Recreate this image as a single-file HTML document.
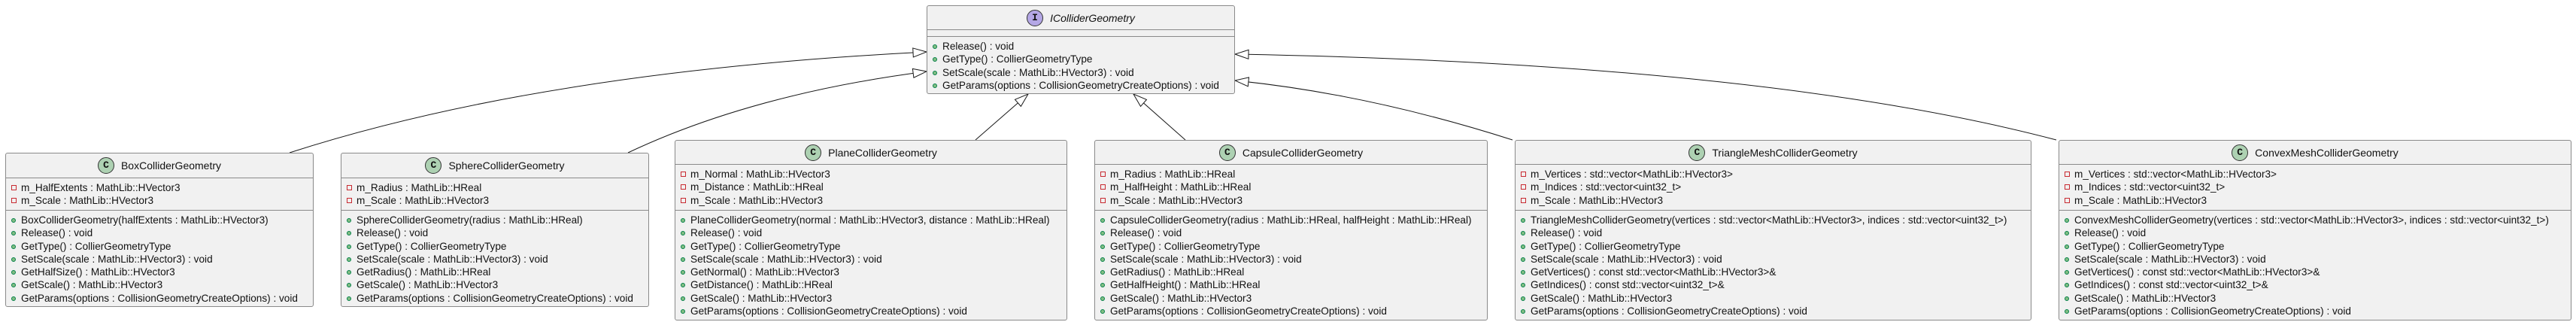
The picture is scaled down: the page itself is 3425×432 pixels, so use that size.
<!DOCTYPE html>
<html><head><meta charset="utf-8"><style>
body{margin:0;width:3425px;height:432px;background:#fff;position:relative;overflow:hidden;font-family:"Liberation Sans",sans-serif;font-size:13.6px;color:#111}
svg{position:absolute;left:0;top:0}
.c{position:absolute;box-sizing:border-box;border:1px solid #8a8a8a;border-radius:3px;background:#f1f1f1}
.h{display:flex;align-items:center;justify-content:center;font-size:14px;box-sizing:border-box}
.ic{display:inline-block;width:20px;height:20px;border-radius:50%;border:1px solid #333;background:#add1b2;font-weight:bold;font-size:13px;line-height:20px;text-align:center;margin-right:9px;font-family:"Liberation Mono",monospace}
.s{border-top:1px solid #8a8a8a;box-sizing:border-box;padding-top:4px}
.r{height:17.3px;line-height:17.3px;padding-left:20px;position:relative;white-space:nowrap}
.a::before{content:"";position:absolute;left:7px;top:5px;width:5px;height:5px;border:1px solid #c82930}
.m::before{content:"";position:absolute;left:7px;top:6px;width:6px;height:6px;border-radius:50%;background:#84be84;border:0.5px solid #038048;box-sizing:border-box}
</style></head><body>
<svg width="3425" height="432">
<defs><marker id="t" markerUnits="userSpaceOnUse" markerWidth="22" markerHeight="16" refX="19" refY="7" orient="auto"><polygon points="1,1 19,7 1,13" fill="#fff" stroke="#181818" stroke-width="1"/></marker></defs>
<g fill="none" stroke="#181818" stroke-width="1">
<path d="M385,203 Q720,95 1232,69" marker-end="url(#t)"/>
<path d="M835,203 Q1000,125 1232,95" marker-end="url(#t)"/>
<path d="M1297,186 L1367,125" marker-end="url(#t)"/>
<path d="M1576,186 L1507,125" marker-end="url(#t)"/>
<path d="M2011,186 Q1820,125 1642,107" marker-end="url(#t)"/>
<path d="M2734,186 Q2350,85 1642,72" marker-end="url(#t)"/>
</g></svg>

<div class="c" style="left:1232px;top:7px;width:410px;height:118px">
<div class="h" style="height:31px"><span class="ic" style="background:#b4a7e5">I</span><i>IColliderGeometry</i></div>
<div class="s" style="height:9px;padding:0"></div>
<div class="s">
<div class="r m">Release() : void</div>
<div class="r m">GetType() : CollierGeometryType</div>
<div class="r m">SetScale(scale : MathLib::HVector3) : void</div>
<div class="r m">GetParams(options : CollisionGeometryCreateOptions) : void</div>
</div></div>

<div class="c" style="left:7px;top:203px;width:410px;height:205px">
<div class="h" style="height:32px"><span class="ic">C</span>BoxColliderGeometry</div>
<div class="s" style="height:43px">
<div class="r a">m_HalfExtents : MathLib::HVector3</div>
<div class="r a">m_Scale : MathLib::HVector3</div></div>
<div class="s">
<div class="r m">BoxColliderGeometry(halfExtents : MathLib::HVector3)</div>
<div class="r m">Release() : void</div>
<div class="r m">GetType() : CollierGeometryType</div>
<div class="r m">SetScale(scale : MathLib::HVector3) : void</div>
<div class="r m">GetHalfSize() : MathLib::HVector3</div>
<div class="r m">GetScale() : MathLib::HVector3</div>
<div class="r m">GetParams(options : CollisionGeometryCreateOptions) : void</div>
</div></div>

<div class="c" style="left:453px;top:203px;width:410px;height:205px">
<div class="h" style="height:32px"><span class="ic">C</span>SphereColliderGeometry</div>
<div class="s" style="height:43px">
<div class="r a">m_Radius : MathLib::HReal</div>
<div class="r a">m_Scale : MathLib::HVector3</div></div>
<div class="s">
<div class="r m">SphereColliderGeometry(radius : MathLib::HReal)</div>
<div class="r m">Release() : void</div>
<div class="r m">GetType() : CollierGeometryType</div>
<div class="r m">SetScale(scale : MathLib::HVector3) : void</div>
<div class="r m">GetRadius() : MathLib::HReal</div>
<div class="r m">GetScale() : MathLib::HVector3</div>
<div class="r m">GetParams(options : CollisionGeometryCreateOptions) : void</div>
</div></div>

<div class="c" style="left:897px;top:186px;width:522px;height:240px">
<div class="h" style="height:31px"><span class="ic">C</span>PlaneColliderGeometry</div>
<div class="s" style="height:61px">
<div class="r a">m_Normal : MathLib::HVector3</div>
<div class="r a">m_Distance : MathLib::HReal</div>
<div class="r a">m_Scale : MathLib::HVector3</div></div>
<div class="s">
<div class="r m">PlaneColliderGeometry(normal : MathLib::HVector3, distance : MathLib::HReal)</div>
<div class="r m">Release() : void</div>
<div class="r m">GetType() : CollierGeometryType</div>
<div class="r m">SetScale(scale : MathLib::HVector3) : void</div>
<div class="r m">GetNormal() : MathLib::HVector3</div>
<div class="r m">GetDistance() : MathLib::HReal</div>
<div class="r m">GetScale() : MathLib::HVector3</div>
<div class="r m">GetParams(options : CollisionGeometryCreateOptions) : void</div>
</div></div>

<div class="c" style="left:1455px;top:186px;width:523px;height:240px">
<div class="h" style="height:31px"><span class="ic">C</span>CapsuleColliderGeometry</div>
<div class="s" style="height:61px">
<div class="r a">m_Radius : MathLib::HReal</div>
<div class="r a">m_HalfHeight : MathLib::HReal</div>
<div class="r a">m_Scale : MathLib::HVector3</div></div>
<div class="s">
<div class="r m">CapsuleColliderGeometry(radius : MathLib::HReal, halfHeight : MathLib::HReal)</div>
<div class="r m">Release() : void</div>
<div class="r m">GetType() : CollierGeometryType</div>
<div class="r m">SetScale(scale : MathLib::HVector3) : void</div>
<div class="r m">GetRadius() : MathLib::HReal</div>
<div class="r m">GetHalfHeight() : MathLib::HReal</div>
<div class="r m">GetScale() : MathLib::HVector3</div>
<div class="r m">GetParams(options : CollisionGeometryCreateOptions) : void</div>
</div></div>

<div class="c" style="left:2014px;top:186px;width:687px;height:240px">
<div class="h" style="height:31px"><span class="ic">C</span>TriangleMeshColliderGeometry</div>
<div class="s" style="height:61px">
<div class="r a">m_Vertices : std::vector&lt;MathLib::HVector3&gt;</div>
<div class="r a">m_Indices : std::vector&lt;uint32_t&gt;</div>
<div class="r a">m_Scale : MathLib::HVector3</div></div>
<div class="s">
<div class="r m">TriangleMeshColliderGeometry(vertices : std::vector&lt;MathLib::HVector3&gt;, indices : std::vector&lt;uint32_t&gt;)</div>
<div class="r m">Release() : void</div>
<div class="r m">GetType() : CollierGeometryType</div>
<div class="r m">SetScale(scale : MathLib::HVector3) : void</div>
<div class="r m">GetVertices() : const std::vector&lt;MathLib::HVector3&gt;&amp;</div>
<div class="r m">GetIndices() : const std::vector&lt;uint32_t&gt;&amp;</div>
<div class="r m">GetScale() : MathLib::HVector3</div>
<div class="r m">GetParams(options : CollisionGeometryCreateOptions) : void</div>
</div></div>

<div class="c" style="left:2737px;top:186px;width:682px;height:240px">
<div class="h" style="height:31px"><span class="ic">C</span>ConvexMeshColliderGeometry</div>
<div class="s" style="height:61px">
<div class="r a">m_Vertices : std::vector&lt;MathLib::HVector3&gt;</div>
<div class="r a">m_Indices : std::vector&lt;uint32_t&gt;</div>
<div class="r a">m_Scale : MathLib::HVector3</div></div>
<div class="s">
<div class="r m">ConvexMeshColliderGeometry(vertices : std::vector&lt;MathLib::HVector3&gt;, indices : std::vector&lt;uint32_t&gt;)</div>
<div class="r m">Release() : void</div>
<div class="r m">GetType() : CollierGeometryType</div>
<div class="r m">SetScale(scale : MathLib::HVector3) : void</div>
<div class="r m">GetVertices() : const std::vector&lt;MathLib::HVector3&gt;&amp;</div>
<div class="r m">GetIndices() : const std::vector&lt;uint32_t&gt;&amp;</div>
<div class="r m">GetScale() : MathLib::HVector3</div>
<div class="r m">GetParams(options : CollisionGeometryCreateOptions) : void</div>
</div></div>
</body></html>
